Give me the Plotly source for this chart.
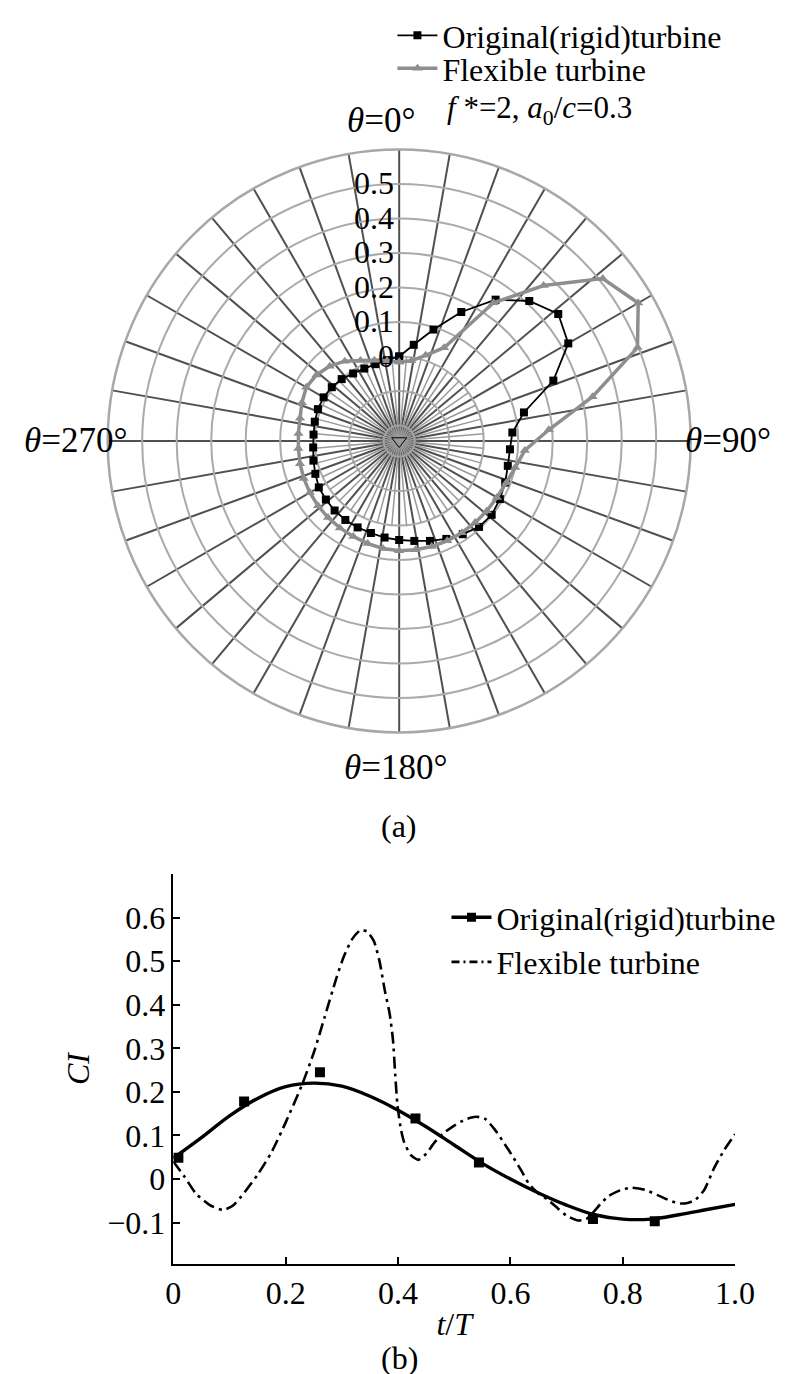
import numpy as np
import plotly.graph_objects as go

FONT = "Liberation Serif"

# ---------------- (a) polar data ----------------
theta_deg = [0, 8.6, 17.1, 25.7, 34.3, 42.9, 51.4, 60, 68.6, 77.1, 85.7, 94.3, 102.9, 111.4,
             120, 128.6, 137.1, 145.7, 154.3, 162.9, 171.4, 180, 188.6, 197.1, 205.7, 214.3,
             222.9, 231.4, 240, 248.6, 257.1, 265.7, 274.3, 282.9, 291.4, 300, 308.6, 317.1,
             325.7, 334.3, 342.9, 351.4]
rigid_polar = [0.0, 0.037, 0.093, 0.17, 0.251, 0.309, 0.345, 0.321, 0.235, 0.126, 0.084, 0.077,
               0.078, 0.085, 0.092, 0.098, 0.095, 0.082, 0.07, 0.058, 0.048, 0.042, 0.038, 0.034,
               0.033, 0.032, 0.03, 0.027, 0.024, 0.016, 0.01, 0.005, 0.004, 0.006, 0.008, 0.008,
               0.005, 0.0, -0.008, -0.012, -0.012, -0.008]
flex_polar = [-0.016, -0.01, 0.015, 0.055, 0.24, 0.37, 0.51, 0.555, 0.497, 0.33, 0.19, 0.12,
              0.1, 0.088, 0.082, 0.08, 0.078, 0.077, 0.076, 0.075, 0.074, 0.073, 0.07, 0.066,
              0.062, 0.06, 0.058, 0.056, 0.054, 0.052, 0.05, 0.048, 0.048, 0.05, 0.058, 0.066,
              0.062, 0.051, 0.035, 0.014, 0.0, -0.01]
radial_ticks = [-0.2, -0.1, 0, 0.1, 0.2, 0.3, 0.4, 0.5, 0.6]
radial_labels = ["", "", "0", "0.1", "0.2", "0.3", "0.4", "0.5", ""]
R_MIN, R_MAX = -0.245, 0.6

# ---------------- (b) cartesian data ----------------
t_rigid = [0.0, 0.05, 0.1, 0.15, 0.2, 0.25, 0.3, 0.35, 0.4, 0.45, 0.5, 0.55, 0.6, 0.65, 0.7,
           0.75, 0.8, 0.85, 0.9, 0.95, 1.0]
ci_rigid = [0.048, 0.095, 0.145, 0.185, 0.212, 0.22, 0.213, 0.19, 0.158, 0.12, 0.078, 0.036,
            0.0, -0.032, -0.06, -0.082, -0.092, -0.092, -0.082, -0.07, -0.058]
t_rigid_pts = [0.009, 0.126, 0.261, 0.431, 0.544, 0.747, 0.857]
ci_rigid_pts = [0.049, 0.178, 0.245, 0.139, 0.038, -0.092, -0.097]
t_flex = [0, 0.02, 0.04, 0.065, 0.088, 0.105, 0.121, 0.15, 0.175, 0.2, 0.229, 0.25, 0.269,
          0.29, 0.303, 0.318, 0.333, 0.345, 0.357, 0.367, 0.377, 0.385, 0.391, 0.395, 0.399,
          0.405, 0.411, 0.423, 0.436, 0.45, 0.465, 0.48, 0.498, 0.52, 0.539, 0.555, 0.572,
          0.59, 0.606, 0.62, 0.633, 0.65, 0.667, 0.685, 0.7, 0.72, 0.735, 0.747, 0.76, 0.774,
          0.795, 0.815, 0.84, 0.862, 0.885, 0.902, 0.915, 0.929, 0.945, 0.963, 0.98, 1.0]
ci_flex = [0.04, 0.005, -0.033, -0.06, -0.071, -0.062, -0.04, 0.01, 0.062, 0.13, 0.216, 0.29,
           0.37, 0.46, 0.509, 0.55, 0.571, 0.568, 0.546, 0.5, 0.429, 0.38, 0.319, 0.24, 0.17,
           0.115, 0.084, 0.055, 0.044, 0.058, 0.084, 0.104, 0.121, 0.137, 0.143, 0.138, 0.114,
           0.08, 0.048, 0.018, -0.011, -0.033, -0.048, -0.068, -0.084, -0.095, -0.092, -0.077,
           -0.058, -0.04, -0.026, -0.02, -0.025, -0.037, -0.05, -0.056, -0.055, -0.048, -0.025,
           0.026, 0.065, 0.103]
x_ticks = [0, 0.2, 0.4, 0.6, 0.8, 1.0]
x_labels = ["0", "0.2", "0.4", "0.6", "0.8", "1.0"]
y_ticks = [-0.1, 0, 0.1, 0.2, 0.3, 0.4, 0.5, 0.6]
y_labels = ["\u22120.1", "0", "0.1", "0.2", "0.3", "0.4", "0.5", "0.6"]

W, H = 805, 1374
fig = go.Figure()

# inner light spokes (decoration of the polar grid near the centre)
dec_theta, dec_r = [], []
for a in np.arange(5, 360, 10):
    dec_theta += [a, a, None]
    dec_r += [R_MIN, 0.0, None]
fig.add_trace(go.Scatterpolar(r=dec_r, theta=dec_theta, mode="lines",
                              line=dict(color="#9a9a9a", width=1.5),
                              showlegend=False, hoverinfo="skip", subplot="polar"))

fig.add_trace(go.Scatterpolar(
    r=rigid_polar + [rigid_polar[0]], theta=theta_deg + [theta_deg[0]],
    mode="lines+markers", name="Original(rigid)turbine",
    line=dict(color="black", width=1.8),
    marker=dict(symbol="square", size=8, color="black"),
    subplot="polar", legend="legend"))
fig.add_trace(go.Scatterpolar(
    r=flex_polar + [flex_polar[0]], theta=theta_deg + [theta_deg[0]],
    mode="lines+markers", name="Flexible turbine",
    line=dict(color="#8e8e8e", width=3.5),
    marker=dict(symbol="triangle-up", size=9, color="#8e8e8e"),
    subplot="polar", legend="legend3"))
fig.add_trace(go.Scatterpolar(r=[R_MIN], theta=[0], mode="markers",
                              marker=dict(symbol="triangle-down", size=13, color="#9a9a9a",
                                          line=dict(color="black", width=1)),
                              showlegend=False, hoverinfo="skip", subplot="polar"))

# (b)
fig.add_trace(go.Scatter(x=t_rigid, y=ci_rigid, mode="lines",
                         line=dict(color="black", width=3.4, shape="spline"),
                         showlegend=False, xaxis="x", yaxis="y"))
fig.add_trace(go.Scatter(x=t_rigid_pts, y=ci_rigid_pts, mode="markers",
                         marker=dict(symbol="square", size=10, color="black"),
                         showlegend=False, xaxis="x", yaxis="y"))
fig.add_trace(go.Scatter(x=t_flex, y=ci_flex, mode="lines",
                         line=dict(color="black", width=2.6, dash="12px,5px,3px,5px",
                                   shape="spline", smoothing=0.6),
                         showlegend=False, xaxis="x", yaxis="y"))
# legend proxies for (b)
fig.add_trace(go.Scatter(x=[None], y=[None], mode="lines+markers", name="Original(rigid)turbine",
                         line=dict(color="black", width=3.4),
                         marker=dict(symbol="square", size=9, color="black"),
                         xaxis="x", yaxis="y", legend="legend2"))
fig.add_trace(go.Scatter(x=[None], y=[None], mode="lines", name="Flexible turbine",
                         line=dict(color="black", width=2.6, dash="8px,4px,2px,4px"),
                         xaxis="x", yaxis="y", legend="legend2"))

cx, cy, rad = 397, 433, 302
FS = 32
tfont = dict(family=FONT, size=FS, color="black")
thfont = dict(family=FONT, size=35, color="black")
ffont = dict(family=FONT, size=31, color="black")

def ann(text, x, y, xanchor="center", font=tfont):
    return dict(text=text, x=x / W, y=1 - y / H, xref="paper", yref="paper",
                showarrow=False, font=font, xanchor=xanchor, yanchor="middle")

leg_common = dict(xanchor="left", yanchor="top", font=tfont, bgcolor="rgba(0,0,0,0)",
                  tracegroupgap=0, itemwidth=40)

fig.update_layout(
    width=W, height=H, margin=dict(l=0, r=0, t=0, b=0),
    paper_bgcolor="white", plot_bgcolor="white",
    font=tfont,
    polar=dict(
        domain=dict(x=[(cx - rad) / W, (cx + rad) / W], y=[1 - (cy + rad) / H, 1 - (cy - rad) / H]),
        bgcolor="white",
        angularaxis=dict(rotation=90, direction="clockwise", tickmode="array",
                         tickvals=list(range(0, 360, 10)), showticklabels=False, ticks="",
                         gridcolor="#505050", gridwidth=2, showline=True,
                         linecolor="#a8a8a8", linewidth=2.5),
        radialaxis=dict(range=[R_MIN, R_MAX], tickmode="array", tickvals=radial_ticks,
                        ticktext=radial_labels, angle=90, side="counterclockwise", tickangle=90,
                        showline=False, ticks="", gridcolor="#aaaaaa", gridwidth=2,
                        tickfont=tfont),
    ),
    xaxis=dict(domain=[163 / W, 745 / W], anchor="y", range=[0, 1], tickmode="array",
               tickvals=x_ticks, ticktext=x_labels, ticks="inside", ticklen=7, tickwidth=1.5,
               tickcolor="black", showline=True, linecolor="black", linewidth=1.5,
               showgrid=False, zeroline=False, tickfont=tfont,
               title=dict(text="<i>t</i>/<i>T</i>", font=tfont, standoff=2)),
    yaxis=dict(domain=[1 - 1256 / H, 1 - 866 / H], anchor="x", range=[-0.195, 0.7],
               tickmode="array", tickvals=y_ticks, ticktext=y_labels, ticks="inside",
               ticklen=7, tickwidth=1.5, tickcolor="black", showline=True, linecolor="black",
               linewidth=1.5, showgrid=False, zeroline=False, tickfont=tfont,
               title=dict(text="<i>CI</i>", font=tfont, standoff=8)),
    legend=dict(x=390 / W, y=1.0, **leg_common),
    legend3=dict(x=390 / W, y=1 - 33 / H, **leg_common),
    legend2=dict(x=446 / W, y=1 - 882 / H, **leg_common),
    annotations=[
        ann("<i>f</i> *=2, <i>a</i><sub>0</sub>/<i>c</i>=0.3", 444, 102, "left", font=ffont),
        ann("<i>θ</i>=0°", 378, 113, font=thfont),
        ann("<i>θ</i>=90°", 738, 433, font=thfont),
        ann("<i>θ</i>=270°", 62, 433, font=thfont),
        ann("<i>θ</i>=180°", 393, 759, font=thfont),
        ann("(a)", 397, 818),
        ann("(b)", 397, 1350),
    ],
)

fig.write_html("out.html")
